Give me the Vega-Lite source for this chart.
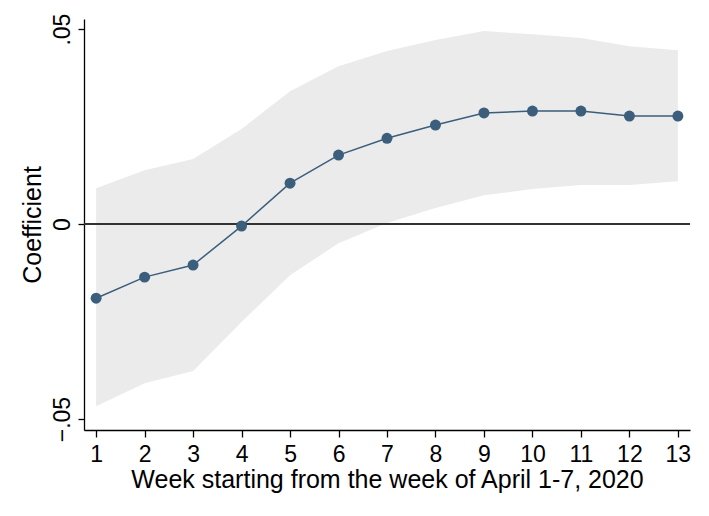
{
  "$schema": "https://vega.github.io/schema/vega-lite/v6.json",
  "width": 606,
  "height": 411,
  "autosize": "none",
  "padding": {"left": 84, "top": 19, "right": 19, "bottom": 86},
  "background": "white",
  "config": {
    "view": {"stroke": null},
    "font": "Liberation Sans",
    "axis": {
      "grid": false,
      "domainColor": "#000000",
      "domainWidth": 1.3,
      "tickColor": "#000000",
      "tickWidth": 1.3,
      "tickSize": 7,
      "labelFont": "Liberation Sans",
      "titleFont": "Liberation Sans",
      "labelFontSize": 23,
      "titleFontSize": 25,
      "labelColor": "#000000",
      "titleColor": "#000000",
      "titleFontWeight": "normal"
    }
  },
  "data": {
    "values": [
      {"week": 1, "coef": -0.0190, "lo": -0.0467, "hi": 0.0092},
      {"week": 2, "coef": -0.0136, "lo": -0.0408, "hi": 0.0138},
      {"week": 3, "coef": -0.0105, "lo": -0.0377, "hi": 0.0167},
      {"week": 4, "coef": -0.0005, "lo": -0.0251, "hi": 0.0244},
      {"week": 5, "coef": 0.0105, "lo": -0.0131, "hi": 0.0341},
      {"week": 6, "coef": 0.0177, "lo": -0.0049, "hi": 0.0405},
      {"week": 7, "coef": 0.0220, "lo": 0.0003, "hi": 0.0444},
      {"week": 8, "coef": 0.0254, "lo": 0.0041, "hi": 0.0472},
      {"week": 9, "coef": 0.0285, "lo": 0.0074, "hi": 0.0495},
      {"week": 10, "coef": 0.0290, "lo": 0.0090, "hi": 0.0487},
      {"week": 11, "coef": 0.0290, "lo": 0.0100, "hi": 0.0477},
      {"week": 12, "coef": 0.0277, "lo": 0.0100, "hi": 0.0456},
      {"week": 13, "coef": 0.0277, "lo": 0.0110, "hi": 0.0446}
    ]
  },
  "encoding": {
    "x": {
      "field": "week",
      "type": "quantitative",
      "title": "Week starting from the week of April 1-7, 2020",
      "scale": {"domain": [0.75, 13.25], "nice": false, "zero": false},
      "axis": {
        "values": [1, 2, 3, 4, 5, 6, 7, 8, 9, 10, 11, 12, 13],
        "labelFontSize": 23,
        "labelPadding": 6,
        "titlePadding": 1
      }
    }
  },
  "layer": [
    {
      "mark": {"type": "area", "color": "#ebebeb", "opacity": 1},
      "encoding": {
        "y": {
          "field": "lo",
          "type": "quantitative",
          "title": "Coefficient",
          "scale": {"domain": [-0.0528, 0.0526], "nice": false, "zero": false},
          "axis": {
            "values": [-0.05, 0, 0.05],
            "labelExpr": "datum.value == 0 ? '0' : replace(format(datum.value, '.2f'), '0.', '.')",
            "labelFontSize": 23,
            "labelAngle": -90,
            "labelAlign": "center",
            "labelBaseline": "alphabetic",
            "labelPadding": 9,
            "tickSize": 6,
            "titlePadding": 6
          }
        },
        "y2": {"field": "hi"}
      }
    },
    {
      "mark": {"type": "rule", "color": "#333333", "strokeWidth": 1.2},
      "encoding": {"y": {"datum": 0, "type": "quantitative"}, "x": {"value": 0}, "x2": {"value": 606}}
    },
    {
      "mark": {"type": "line", "color": "#3b5e7c", "strokeWidth": 1.5},
      "encoding": {"y": {"field": "coef", "type": "quantitative"}}
    },
    {
      "mark": {"type": "point", "filled": true, "color": "#3b5e7c", "opacity": 1, "size": 120},
      "encoding": {"y": {"field": "coef", "type": "quantitative"}}
    }
  ]
}
